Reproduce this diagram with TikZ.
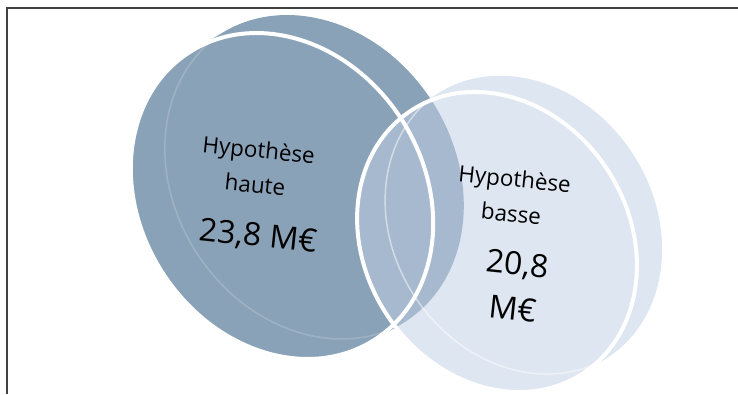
\documentclass[tikz,border=0pt]{standalone}
\usepackage{fontspec}
\setmainfont{Open Sans}
\definecolor{hauteblue}{RGB}{138,162,184}
\definecolor{basseblue}{RGB}{222,230,241}
\definecolor{bothblue}{RGB}{166,185,207}
\begin{document}
\begin{tikzpicture}[x=1bp, y=1bp,
    venntext/.style={align=center, inner sep=0pt, font=\fontsize{22.5}{35}\selectfont, rotate=-6},
    vennvalue/.style={align=center, inner sep=0pt, font=\fontsize{32}{45}\selectfont, rotate=-6}]
    \useasboundingbox (0,0) rectangle (738,394);
    % frame
    \draw[line width=1.5bp, black!75] (7,0) -- (7,386) -- (738,386);
    % disks: front face swept back to give the thickness
    \fill[hauteblue] \foreach \k in {0,0.1,...,1}
        {(282+34*\k,198+20*\k) ellipse [x radius=142, y radius=171, rotate=33]};
    \fill[basseblue] \foreach \k in {0,0.1,...,1}
        {(497+28*\k,152+18*\k) ellipse [x radius=132, y radius=157, rotate=33]};
    % overlap
    \begin{scope}
        \clip \foreach \k in {0,0.1,...,1}
            {(282+34*\k,198+20*\k) ellipse [x radius=142, y radius=171, rotate=33]};
        \fill[bothblue] \foreach \k in {0,0.1,...,1}
            {(497+28*\k,152+18*\k) ellipse [x radius=132, y radius=157, rotate=33]};
    \end{scope}
    % back edges seen through the front
    \begin{scope}
        \clip (282,198) ellipse [x radius=142, y radius=171, rotate=33];
        \draw[white, opacity=0.18, line width=1.5bp] (316,218) ellipse [x radius=142, y radius=171, rotate=33];
    \end{scope}
    \begin{scope}
        \clip (497,152) ellipse [x radius=132, y radius=157, rotate=33];
        \draw[white, opacity=0.5, line width=1.5bp] (525,170) ellipse [x radius=132, y radius=157, rotate=33];
    \end{scope}
    % front edges
    \draw[white, line width=4bp] (282,198) ellipse [x radius=142, y radius=171, rotate=33];
    \draw[white, line width=4bp] (497,152) ellipse [x radius=132, y radius=157, rotate=33];
    % texts
    \node[venntext] (hauteName) at (257,227) {Hypothèse\\haute};
    \node[vennvalue] (hauteValue) at (258,157) {23,8 M€};
    \node[venntext] (basseName) at (513,198) {Hypothèse\\basse};
    \node[vennvalue] (basseValue) at (515,108) {20,8\\M€};
\end{tikzpicture}
\end{document}
